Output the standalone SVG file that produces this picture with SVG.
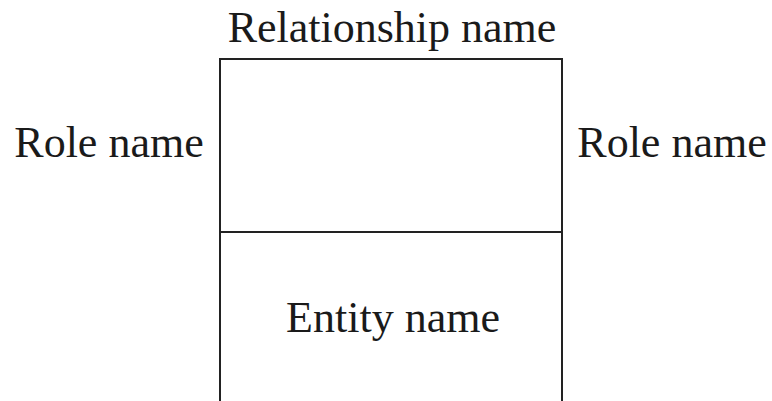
<svg xmlns="http://www.w3.org/2000/svg" width="772" height="401" viewBox="0 0 772 401">
<style>
.t{font-family:"Liberation Serif","Times New Roman",serif;font-size:44px;fill:#1a1a1a}
.ln{stroke:#222;stroke-width:2;fill:none}
</style>
<rect width="772" height="401" fill="#fff"/>
<g id="connectors">
<line class="ln" x1="220" y1="232" x2="562" y2="232"/>
</g>
<g id="relationship">
<path class="ln" d="M220,401 V59 H562 V401"/>
<text class="t" x="392" y="42" text-anchor="middle">Relationship name</text>
</g>
<g id="entity">
<text class="t" x="393" y="332" text-anchor="middle">Entity name</text>
</g>
<g id="role-left">
<text class="t" x="109" y="157" text-anchor="middle">Role name</text>
</g>
<g id="role-right">
<text class="t" x="672" y="157" text-anchor="middle">Role name</text>
</g>
</svg>
